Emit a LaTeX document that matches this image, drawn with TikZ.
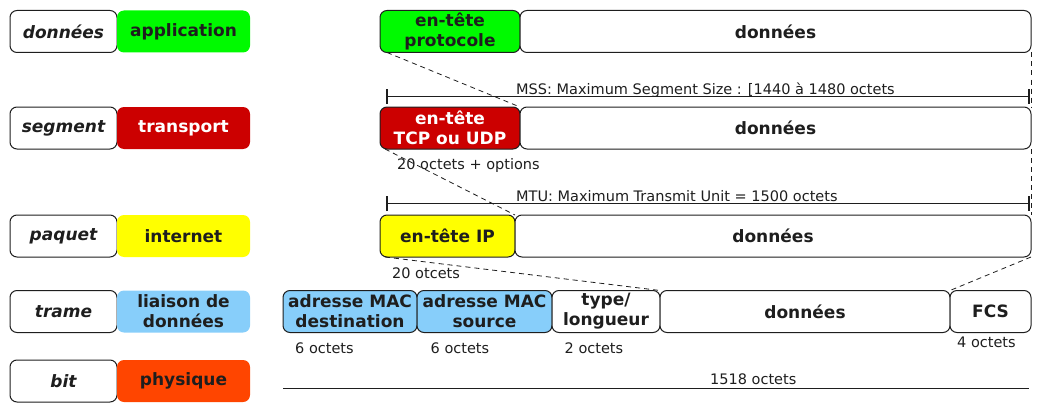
\documentclass[tikz,border=0pt]{standalone}
\usepackage{fontspec}
\setmainfont{DejaVu Sans}
\usetikzlibrary{positioning, arrows.meta}
\definecolor{LayApp}{RGB}{0, 250, 0}
\definecolor{LayTrans}{RGB}{204, 0, 0}
\definecolor{LayNet}{RGB}{255, 255, 0}
\definecolor{LayLink}{RGB}{135, 206, 250}
\definecolor{LayPhy}{RGB}{255, 69, 0}
\definecolor{LayInk}{RGB}{30, 30, 30}
\tikzset{
  tag/.style={rectangle, rounded corners=7pt, draw=LayInk, line width=1pt, fill=white,
    minimum height=42pt, minimum width=107pt, inner sep=0pt, outer sep=0pt, text=LayInk,
    font=\fontsize{17}{20}\selectfont\bfseries\itshape},
  layerbox/.style={rectangle, rounded corners=7pt, minimum height=42pt, minimum width=133pt,
    inner sep=0pt, outer sep=0pt, align=center, text=LayInk, font=\fontsize{17}{20}\selectfont\bfseries},
  field/.style={rectangle, rounded corners=7pt, draw=LayInk, line width=1pt, fill=white,
    minimum height=42pt, inner sep=0pt, outer sep=0pt, align=center, text=LayInk,
    font=\fontsize{17}{20}\selectfont\bfseries},
  note/.style={anchor=base west, inner sep=0pt, text=LayInk, font=\fontsize{14.5}{17}\selectfont},
  slice/.style={dashed, dash pattern=on 5pt off 4pt, line width=0.8pt, LayInk},
  measure/.style={{Bar[width=15pt, line width=1.6pt]}-{Bar[width=15pt, line width=1.6pt]},
    line width=1pt, LayInk},
}

\begin{document}
\begin{tikzpicture}[x=1pt, y=-1pt]
    \useasboundingbox (0,0) rectangle (1041,412);
    % left column: unit + layer
    \node[tag] (dataTag) at (63.5,31.5) {données};
    \node[layerbox, fill=LayApp, right=0pt of dataTag] (appLay) {application};
    \node[tag] (segTag) at (63.5,128) {segment};
    \node[layerbox, fill=LayTrans, text=white, right=0pt of segTag] (transLay) {transport};
    \node[tag] (pktTag) at (63.5,236) {paquet};
    \node[layerbox, fill=LayNet, right=0pt of pktTag] (netLay) {internet};
    \node[tag] (frameTag) at (63.5,311.5) {trame};
    \node[layerbox, fill=LayLink, right=0pt of frameTag] (linkLay) {liaison de\\données};
    \node[tag] (bitTag) at (63.5,381) {bit};
    \node[layerbox, fill=LayPhy, right=0pt of bitTag] (phyLay) {physique};
    % application
    \node[field, fill=LayApp, minimum width=140pt] (appHdr) at (450,31.5) {en-tête\\protocole};
    \node[field, minimum width=511pt, right=0pt of appHdr] (appData) {données};
    % transport
    \coordinate (mssL) at (386,96.5);
    \coordinate (mssR) at (1030,96.5);
    \draw[measure] (mssL) -- (mssR);
    \node[note] (mssTxt) at (516,94.5) {MSS: Maximum Segment Size : [1440 à 1480 octets};
    \node[field, fill=LayTrans, text=white, minimum width=140pt] (tcpHdr) at (450,128) {en-tête\\TCP ou UDP};
    \node[field, minimum width=511pt, right=0pt of tcpHdr] (tcpData) {données};
    \node[note] (tcpLen) at (397,169) {20 octets + options};
    % internet
    \coordinate (mtuL) at (386,203.5);
    \coordinate (mtuR) at (1030,203.5);
    \draw[measure] (mtuL) -- (mtuR);
    \node[note] (mtuTxt) at (516,201.5) {MTU: Maximum Transmit Unit = 1500 octets};
    \node[field, fill=LayNet, minimum width=135pt] (ipHdr) at (447.5,236) {en-tête IP};
    \node[field, minimum width=516pt, right=0pt of ipHdr] (ipData) {données};
    \node[note] (ipLen) at (392,278) {20 otcets};
    % trame
    \node[field, fill=LayLink, minimum width=134pt] (macDst) at (350,311.5) {adresse MAC\\destination};
    \node[field, fill=LayLink, minimum width=135pt, right=0pt of macDst] (macSrc) {adresse MAC\\source};
    \node[field, minimum width=108pt, right=0pt of macSrc] (typeLen) {type/\\longueur};
    \node[field, minimum width=290pt, right=0pt of typeLen] (frameData) {données};
    \node[field, minimum width=81pt, right=0pt of frameData] (fcs) {FCS};
    \node[note] (dstLen) at (295,353) {6 octets};
    \node[note] (srcLen) at (430.5,353) {6 octets};
    \node[note] (typeLenLen) at (564.5,353) {2 octets};
    \node[note] (fcsLen) at (957,347.5) {4 octets};
    % bit
    \coordinate (bitL) at (283,388);
    \coordinate (bitR) at (1029,388);
    \draw[line width=1pt, LayInk] (bitL) -- (bitR);
    \node[note] (bitLen) at (710,384) {1518 octets};
    % encapsulation
    \draw[slice] ([xshift=7pt]appHdr.south west) -- (tcpData.north west);
    \draw[slice] (appData.south east) -- (tcpData.north east);
    \draw[slice] ([xshift=5pt]tcpHdr.south west) -- (ipData.north west);
    \draw[slice] (tcpData.south east) -- (ipData.north east);
    \draw[slice] ([xshift=5pt]ipHdr.south west) -- (frameData.north west);
    \draw[slice] (ipData.south east) -- (fcs.north west);
\end{tikzpicture}
\end{document}
